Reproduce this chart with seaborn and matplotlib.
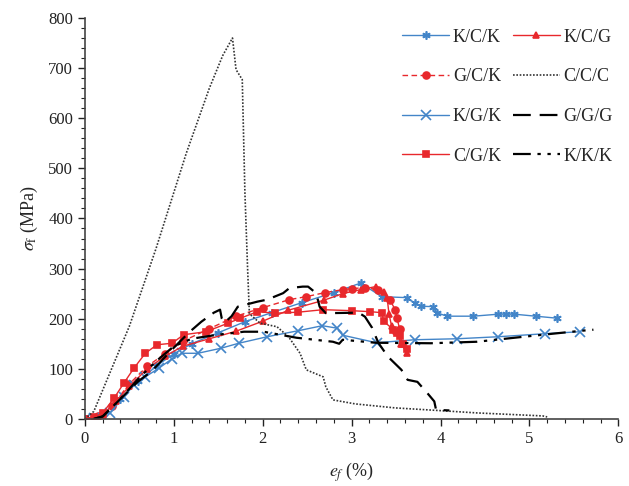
import pandas as pd
import matplotlib
matplotlib.use("Agg")
import matplotlib.pyplot as plt
import seaborn as sns
from matplotlib.ticker import MultipleLocator

# 곡선 데이터
kck_x = [0, 0.2, 0.4, 0.6, 0.8, 1.0, 1.2, 1.5, 1.8, 2.1, 2.44, 2.8, 3.10, 3.34, 3.62, 3.71, 3.78, 3.91,
         3.96, 4.07, 4.37, 4.65, 4.74, 4.83, 5.07, 5.31]
kck_y = [0, 10, 40, 75, 105, 130, 150, 172, 194, 212, 232, 252, 271, 244, 242, 231, 225, 224,
         212, 205, 205, 209, 209, 209, 205, 201]

kcg_x = [0, 0.2, 0.35, 0.5, 0.7, 0.9, 1.1, 1.4, 1.7, 2.0, 2.29, 2.69, 2.9, 3.1, 3.27, 3.36, 3.40,
         3.42, 3.45, 3.50, 3.56, 3.62]
kcg_y = [0, 8, 35, 65, 100, 125, 145, 160, 175, 195, 217, 237, 250, 258, 264, 254, 241,
         210, 185, 175, 150, 131]

gck_x = [0, 0.15, 0.3, 0.5, 0.7, 0.9, 1.1, 1.4, 1.7, 2.0, 2.3, 2.49, 2.7, 2.9, 3.0, 3.15, 3.3,
         3.43, 3.49, 3.51, 3.54]
gck_y = [0, 5, 25, 70, 105, 130, 155, 180, 205, 222, 238, 244, 252, 258, 260, 262, 258,
         238, 218, 201, 180]

ccc_x = [0, 0.1, 0.3, 0.5, 0.8, 1.14, 1.4, 1.55, 1.66, 1.70, 1.77, 1.78, 1.80, 1.83, 1.85, 1.97,
         2.16, 2.29, 2.42, 2.49, 2.68, 2.71, 2.79, 3.04, 3.49, 3.96, 4.41, 5.15, 5.2]
ccc_y = [0, 15, 100, 185, 340, 530, 660, 725, 760, 697, 677, 600, 450, 300, 210, 191,
         184, 164, 131, 98, 84, 64, 38, 30, 22, 17, 12, 6, 4]

kgk_x = [0, 0.1, 0.28, 0.44, 0.55, 0.68, 0.83, 0.98, 1.09, 1.27, 1.53, 1.73, 2.05, 2.40, 2.67,
         2.84, 2.90, 3.28, 3.71, 4.19, 4.65, 5.17, 5.57]
kgk_y = [0, 2, 12, 44, 68, 84, 101, 120, 131, 131, 141, 151, 164, 176, 186,
         181, 167, 152, 158, 160, 164, 170, 174]

ggg_x = [0.1, 0.2, 0.4, 0.6, 0.75, 1.01, 1.18, 1.31, 1.45, 1.52, 1.54, 1.57, 1.65, 1.72, 1.94, 2.05,
         2.23, 2.30, 2.45, 2.51, 2.58, 2.62, 2.64, 2.71, 3.08, 3.15, 3.23, 3.30, 3.41, 3.56, 3.63,
         3.74, 3.84, 3.93, 3.95, 4.10]
ggg_y = [0, 5, 40, 75, 95, 144, 174, 194, 212, 218, 200, 192, 205, 224, 234, 238,
         251, 261, 264, 264, 254, 238, 224, 211, 212, 204, 182, 152, 124, 98, 78,
         74, 54, 35, 18, 17]

cgk_x = [0, 0.1, 0.2, 0.33, 0.44, 0.55, 0.68, 0.81, 0.98, 1.11, 1.36, 1.61, 1.75, 1.94, 2.14, 2.4,
         2.68, 3.0, 3.21, 3.34, 3.36, 3.47, 3.51, 3.54, 3.58, 3.62]
cgk_y = [0, 3, 12, 42, 72, 101, 131, 148, 151, 168, 174, 191, 201, 214, 211, 213,
         218, 216, 214, 212, 195, 178, 171, 165, 150, 140]

kkk_x = [0.1, 0.2, 0.4, 0.6, 0.8, 1.0, 1.2, 1.49, 1.79, 2.01, 2.38, 2.79, 2.86, 2.90, 3.27, 3.89,
         4.41, 5.15, 5.59, 5.72]
kkk_y = [0, 5, 40, 80, 115, 145, 160, 168, 174, 174, 162, 154, 150, 158, 152, 151,
         154, 168, 176, 178]

blue = "#4385c8"
red = "#e8282c"

# (라벨, x, y, 색, 선 스타일, 마커, 마커 크기)
series = [
    ("K/C/K", kck_x, kck_y, blue, "-", (6, 2, 0), 6),
    ("G/C/K", gck_x, gck_y, red, (0, (4, 2.5)), "o", 5),
    ("K/G/K", kgk_x, kgk_y, blue, "-", "x", 7),
    ("C/G/K", cgk_x, cgk_y, red, "-", "s", 4.5),
    ("K/C/G", kcg_x, kcg_y, red, "-", "^", 5),
    ("C/C/C", ccc_x, ccc_y, "#333333", (0, (1, 1)), None, 0),
    ("G/G/G", ggg_x, ggg_y, "black", (0, (8, 4)), None, 0),
    ("K/K/K", kkk_x, kkk_y, "black", (0, (8, 3, 1.5, 3, 1.5, 3)), None, 0),
]

sns.set_style("white")
plt.rcParams["font.family"] = ["Liberation Serif", "DejaVu Serif"]
plt.rcParams["mathtext.fontset"] = "stix"

fig = plt.figure(figsize=(6.29, 4.86), dpi=100)
ax = fig.add_axes([0.135, 0.138, 0.848, 0.825])

for label, xs, ys, color, ls, mk, ms in series:
    df = pd.DataFrame({"x": xs, "y": ys})
    lw = 1.6 if color == "black" else (1.2 if mk is None else 1.0)
    sns.lineplot(data=df, x="x", y="y", sort=False, estimator=None, ax=ax,
                 color=color, linestyle=ls, linewidth=lw, marker=mk, markersize=ms,
                 markeredgecolor=color, markerfacecolor=color, markeredgewidth=1.2,
                 label=label)

ax.set_xlim(0, 6)
ax.set_ylim(0, 800)
ax.xaxis.set_major_locator(MultipleLocator(1))
ax.xaxis.set_minor_locator(MultipleLocator(0.2))
ax.yaxis.set_major_locator(MultipleLocator(100))
ax.yaxis.set_minor_locator(MultipleLocator(20))
ax.tick_params(which="both", direction="out", colors="#222222", labelsize=12,
               bottom=True, left=True)
ax.tick_params(which="major", length=5, width=1)
ax.tick_params(which="minor", length=3, width=0.8)

for s in ["top", "right"]:
    ax.spines[s].set_visible(False)
for s in ["left", "bottom"]:
    ax.spines[s].set_color("#444444")
    ax.spines[s].set_linewidth(1.2)

ax.set_xlabel(r"$e_f$ (%)", fontsize=13, labelpad=10)
ax.set_ylabel(r"$\sigma_{\rm f}$ (MPa)", fontsize=13, labelpad=6)

ax.legend(ncol=2, loc="upper right", bbox_to_anchor=(1.01, 1.0), frameon=False,
          fontsize=13, labelspacing=1.25, columnspacing=0.6, handlelength=2.6,
          handletextpad=0.2, borderaxespad=0.2)

plt.savefig("out.png", dpi=100)
